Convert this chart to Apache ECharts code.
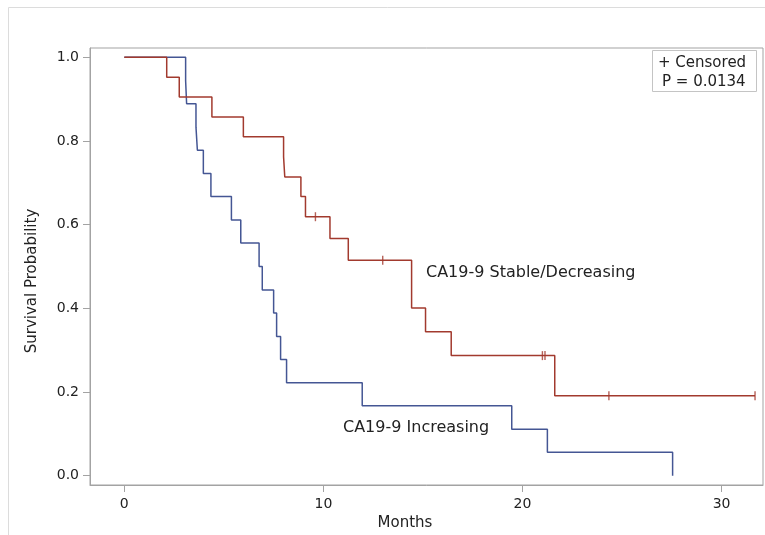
<!DOCTYPE html>
<html>
<head>
<meta charset="utf-8">
<script src="https://cdn.jsdelivr.net/npm/echarts@6/dist/echarts.min.js"></script>
<style>
html,body{margin:0;padding:0;background:#fff;}
#chart{width:765px;height:535px;}
</style>
</head>
<body>
<div id="chart"></div>
<script>
// Kaplan-Meier step data: [months, survival probability]
var stableTimes = [0, 2.13, 2.76, 4.40, 5.98, 8.00, 8.06, 8.87, 9.10, 10.33, 11.25, 14.43, 15.13, 16.42, 21.62, 31.68];
var stableSurv  = [1.000, 0.952, 0.905, 0.857, 0.810, 0.762, 0.714, 0.667, 0.619, 0.567, 0.515, 0.401, 0.344, 0.287, 0.191, 0.191];
var stableCensorTimes = [9.60, 12.98, 21.00, 21.13, 24.34, 31.68];
var stableCensorSurv  = [0.619, 0.515, 0.287, 0.287, 0.191, 0.191];

var increasingTimes = [0, 3.08, 3.13, 3.60, 3.67, 3.97, 4.35, 5.38, 5.85, 6.77, 6.93, 7.50, 7.65, 7.85, 8.15, 11.95, 19.46, 21.25, 27.54];
var increasingSurv  = [1.000, 0.944, 0.889, 0.833, 0.778, 0.722, 0.667, 0.611, 0.556, 0.500, 0.444, 0.389, 0.333, 0.278, 0.222, 0.167, 0.111, 0.056, 0.000];

var xTicks = [0, 10, 20, 30];
var yTicks = [0.0, 0.2, 0.4, 0.6, 0.8, 1.0];

var seriesNames = ['CA19-9 Stable/Decreasing', 'CA19-9 Increasing'];
var legendLines = ['+ Censored', 'P = 0.0134'];
var xTitle = 'Months';
var yTitle = 'Survival Probability';

function pairs(a, b) { return a.map(function (v, i) { return [v, b[i]]; }); }

var RED = '#A23A2E', BLUE = '#445694', FRAME = '#A3A3A3';
var FONT = "'DejaVu Sans', Verdana, sans-serif";

var chart = echarts.init(document.getElementById('chart'), null, {renderer: 'canvas'});
chart.setOption({
  animation: false,
  backgroundColor: '#fff',
  grid: {left: 90, top: 48, width: 673, height: 437, show: true, borderColor: FRAME, borderWidth: 1, backgroundColor: 'transparent'},
  xAxis: {
    type: 'value', min: -1.723, max: 32.08,
    axisLine: {show: true, onZero: false, lineStyle: {color: FRAME, width: 1}},
    splitLine: {show: false},
    axisTick: {show: true, inside: false, length: 7, customValues: xTicks, lineStyle: {color: FRAME}},
    axisLabel: {customValues: xTicks, margin: 12, color: '#222', fontFamily: FONT, fontSize: 14}
  },
  yAxis: {
    type: 'value', min: -0.0222, max: 1.0222,
    axisLine: {show: true, onZero: false, lineStyle: {color: FRAME, width: 1}},
    splitLine: {show: false},
    axisTick: {show: true, inside: false, length: 7, customValues: yTicks, lineStyle: {color: FRAME}},
    axisLabel: {customValues: yTicks, margin: 11, color: '#222', fontFamily: FONT, fontSize: 14,
      formatter: function (v) { return v.toFixed(1); }}
  },
  series: [
    {type: 'line', name: seriesNames[1], step: 'end', data: pairs(increasingTimes, increasingSurv),
      showSymbol: false, lineStyle: {color: BLUE, width: 1.5}, z: 2},
    {type: 'line', name: seriesNames[0], step: 'end', data: pairs(stableTimes, stableSurv),
      showSymbol: false, lineStyle: {color: RED, width: 1.5}, z: 3},
    {type: 'scatter', data: pairs(stableCensorTimes, stableCensorSurv), symbol: 'rect',
      symbolSize: [1.4, 9], itemStyle: {color: RED}, z: 4}
  ],
  graphic: [
    {type: 'rect', shape: {x: 8.5, y: 7.5, width: 800, height: 600}, style: {fill: 'none', stroke: '#DCDCDC', lineWidth: 1}, z: -10},
    {type: 'rect', shape: {x: 652.5, y: 50.5, width: 104, height: 41}, style: {fill: '#fff', stroke: '#C4C4C4', lineWidth: 1}, z: 10},
    {type: 'text', left: 658, top: 56, style: {text: legendLines[0], font: '15px ' + FONT, fill: '#222'}, z: 11},
    {type: 'text', left: 662, top: 75, style: {text: legendLines[1], font: '15px ' + FONT, fill: '#222'}, z: 11},
    {type: 'text', left: 426, top: 265, style: {text: seriesNames[0], font: '16px ' + FONT, fill: '#222'}, z: 11},
    {type: 'text', left: 343, top: 420, style: {text: seriesNames[1], font: '16px ' + FONT, fill: '#222'}, z: 11},
    {type: 'text', x: 405, y: 523, style: {text: xTitle, font: '15px ' + FONT, fill: '#222', align: 'center', verticalAlign: 'middle'}, z: 11},
    {type: 'text', x: 32, y: 281, rotation: Math.PI / 2, style: {text: yTitle, font: '15px ' + FONT, fill: '#222', align: 'center', verticalAlign: 'middle'}, z: 11}
  ]
});
</script>
</body>
</html>
